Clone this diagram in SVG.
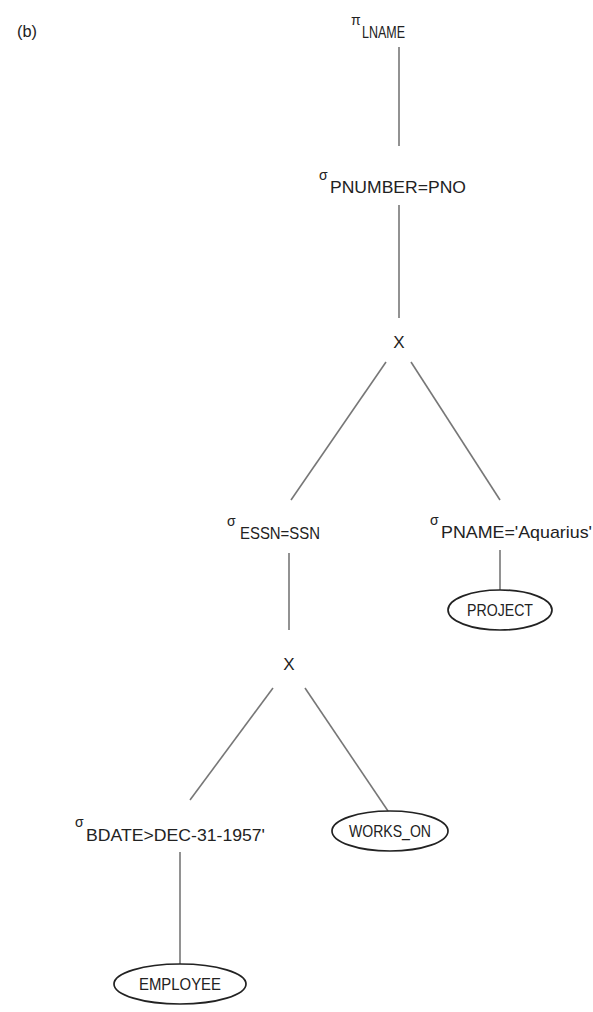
<svg xmlns="http://www.w3.org/2000/svg" width="593" height="1012" viewBox="0 0 593 1012">
<style>
  text { font-family: "Liberation Sans", Arial, sans-serif; fill: #222; }
  .lbl { font-size: 17px; }
  .sym { font-size: 14px; }
  .edge { stroke: #777; stroke-width: 1.6; fill: none; }
  .rel { fill: #fff; stroke: #222; stroke-width: 1.7; }
</style>
<rect width="593" height="1012" fill="#fff"/>
<text x="17" y="37" class="lbl" textLength="20" lengthAdjust="spacingAndGlyphs">(b)</text>
<g id="connectors">
  <line class="edge" x1="399" y1="47" x2="399" y2="146"/>
  <line class="edge" x1="399" y1="205" x2="399" y2="318"/>
  <line class="edge" x1="386" y1="362" x2="291" y2="500"/>
  <line class="edge" x1="411" y1="362" x2="500" y2="500"/>
  <line class="edge" x1="289" y1="553" x2="289" y2="630"/>
  <line class="edge" x1="500" y1="550" x2="500" y2="590"/>
  <line class="edge" x1="273" y1="688" x2="190" y2="800"/>
  <line class="edge" x1="305" y1="688" x2="388" y2="811"/>
  <line class="edge" x1="180" y1="852" x2="180" y2="964"/>
</g>
<g id="proj-lname">
  <text x="351" y="25" class="sym">π</text>
  <text x="362" y="38" class="lbl" textLength="43" lengthAdjust="spacingAndGlyphs">LNAME</text>
</g>
<g id="sel-pnumber">
  <text x="319" y="180" class="sym">σ</text>
  <text x="330" y="193" class="lbl" textLength="136" lengthAdjust="spacingAndGlyphs">PNUMBER=PNO</text>
</g>
<g id="cross1">
  <text x="399" y="348" class="lbl" text-anchor="middle">X</text>
</g>
<g id="sel-essn">
  <text x="227" y="526" class="sym">σ</text>
  <text x="240" y="539" class="lbl" textLength="80" lengthAdjust="spacingAndGlyphs">ESSN=SSN</text>
</g>
<g id="sel-pname">
  <text x="430" y="525" class="sym">σ</text>
  <text x="441" y="538" class="lbl" textLength="151" lengthAdjust="spacingAndGlyphs">PNAME='Aquarius'</text>
</g>
<g id="project">
  <ellipse class="rel" cx="500" cy="610" rx="52" ry="20"/>
  <text x="500" y="616" class="lbl" text-anchor="middle" textLength="66" lengthAdjust="spacingAndGlyphs">PROJECT</text>
</g>
<g id="cross2">
  <text x="289" y="670" class="lbl" text-anchor="middle">X</text>
</g>
<g id="sel-bdate">
  <text x="75" y="827" class="sym">σ</text>
  <text x="86" y="841" class="lbl" textLength="179" lengthAdjust="spacingAndGlyphs">BDATE&gt;DEC-31-1957'</text>
</g>
<g id="works-on">
  <ellipse class="rel" cx="390" cy="831" rx="58" ry="20"/>
  <text x="390" y="837" class="lbl" text-anchor="middle" textLength="82" lengthAdjust="spacingAndGlyphs">WORKS_ON</text>
</g>
<g id="employee">
  <ellipse class="rel" cx="180" cy="984" rx="66" ry="20"/>
  <text x="180" y="990" class="lbl" text-anchor="middle" textLength="82" lengthAdjust="spacingAndGlyphs">EMPLOYEE</text>
</g>
</svg>
